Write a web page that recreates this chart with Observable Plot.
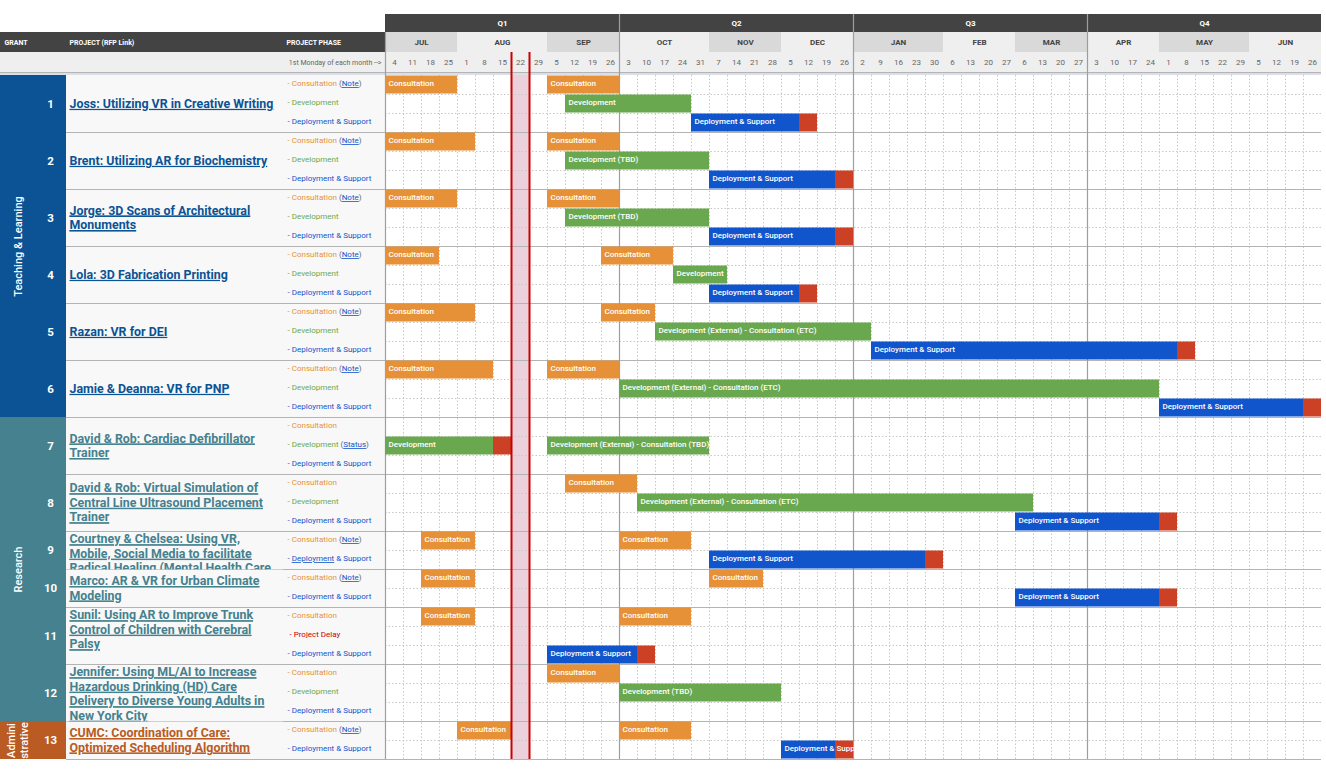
<!DOCTYPE html>
<html>
<head>
<meta charset="utf-8">
<script src="https://cdn.jsdelivr.net/npm/d3@7"></script>
<script src="https://cdn.jsdelivr.net/npm/@observablehq/plot@0.6"></script>
<style>
  body { margin: 0; background: #ffffff; font-family: Roboto, sans-serif; }
  #chart svg { display: block; }
</style>
</head>
<body>
<div id="chart"></div>
<script>
// ---------------- DATA ----------------
const quarters = ["Q1", "Q2", "Q3", "Q4"];
const months = ["JUL", "AUG", "SEP", "OCT", "NOV", "DEC", "JAN", "FEB", "MAR", "APR", "MAY", "JUN"];
// 1st Monday of each week, per month
const mondays = [
  [4, 11, 18, 25], [1, 8, 15, 22, 29], [5, 12, 19, 26],
  [3, 10, 17, 24, 31], [7, 14, 21, 28], [5, 12, 19, 26],
  [2, 9, 16, 23, 30], [6, 13, 20, 27], [6, 13, 20, 27],
  [3, 10, 17, 24], [1, 8, 15, 22, 29], [5, 12, 19, 26]
];
const todayWeek = 7; // week of Aug 22 (highlighted)

const groupNames = ["Teaching & Learning", "Research", "Admini\nstrative"];
const groupColors = ["#0b5394", "#45818e", "#b95b22"];

const projectNames = [
  "Joss: Utilizing VR in Creative Writing",
  "Brent: Utilizing AR for Biochemistry",
  "Jorge: 3D Scans of Architectural\nMonuments",
  "Lola: 3D Fabrication Printing",
  "Razan: VR for DEI",
  "Jamie & Deanna: VR for PNP",
  "David & Rob: Cardiac Defibrillator\nTrainer",
  "David & Rob: Virtual Simulation of\nCentral Line Ultrasound Placement\nTrainer",
  "Courtney & Chelsea: Using VR,\nMobile, Social Media to facilitate\nRadical Healing (Mental Health Care",
  "Marco: AR & VR for Urban Climate\nModeling",
  "Sunil: Using AR to Improve Trunk\nControl of Children with Cerebral\nPalsy",
  "Jennifer: Using ML/AI to Increase\nHazardous Drinking (HD) Care\nDelivery to Diverse Young Adults in\nNew York City",
  "CUMC: Coordination of Care:\nOptimized Scheduling Algorithm"
];
const projectGroup = [0, 0, 0, 0, 0, 0, 1, 1, 1, 1, 1, 1, 2];
const overflowingNames = [9, 11, 12];   // names taller than their row (top aligned)
const coveredNames = [10, 13];          // rows that hide the overflow of the row above

// phase rows of each project: [phase, link text, link on first word]
const projectPhases = [
  [["Consultation", "Note"], ["Development"], ["Deployment & Support"]],
  [["Consultation", "Note"], ["Development"], ["Deployment & Support"]],
  [["Consultation", "Note"], ["Development"], ["Deployment & Support"]],
  [["Consultation", "Note"], ["Development"], ["Deployment & Support"]],
  [["Consultation", "Note"], ["Development"], ["Deployment & Support"]],
  [["Consultation", "Note"], ["Development"], ["Deployment & Support"]],
  [["Consultation"], ["Development", "Status"], ["Deployment & Support"]],
  [["Consultation"], ["Development"], ["Deployment & Support"]],
  [["Consultation", "Note"], ["Deployment & Support", null, true]],
  [["Consultation", "Note"], ["Deployment & Support"]],
  [["Consultation"], ["Project Delay"], ["Deployment & Support"]],
  [["Consultation"], ["Development"], ["Deployment & Support"]],
  [["Consultation", "Note"], ["Deployment & Support"]]
];

// bars: project, phase row within the project, type, label, start week, end week (week index 0 = Jul 4)
// types: C consultation, D development, S deployment & support, X delay
const bars = [
  [1, 0, "C", "Consultation", 0, 4], [1, 0, "C", "Consultation", 9, 13],
  [1, 1, "D", "Development", 10, 17],
  [1, 2, "S", "Deployment & Support", 17, 23], [1, 2, "X", "", 23, 24],

  [2, 0, "C", "Consultation", 0, 5], [2, 0, "C", "Consultation", 9, 13],
  [2, 1, "D", "Development (TBD)", 10, 18],
  [2, 2, "S", "Deployment & Support", 18, 25], [2, 2, "X", "", 25, 26],

  [3, 0, "C", "Consultation", 0, 4], [3, 0, "C", "Consultation", 9, 13],
  [3, 1, "D", "Development (TBD)", 10, 18],
  [3, 2, "S", "Deployment & Support", 18, 25], [3, 2, "X", "", 25, 26],

  [4, 0, "C", "Consultation", 0, 3], [4, 0, "C", "Consultation", 12, 16],
  [4, 1, "D", "Development", 16, 19],
  [4, 2, "S", "Deployment & Support", 18, 23], [4, 2, "X", "", 23, 24],

  [5, 0, "C", "Consultation", 0, 5], [5, 0, "C", "Consultation", 12, 15],
  [5, 1, "D", "Development (External) - Consultation (ETC)", 15, 27],
  [5, 2, "S", "Deployment & Support", 27, 44], [5, 2, "X", "", 44, 45],

  [6, 0, "C", "Consultation", 0, 6], [6, 0, "C", "Consultation", 9, 13],
  [6, 1, "D", "Development (External) - Consultation (ETC)", 13, 43],
  [6, 2, "S", "Deployment & Support", 43, 51], [6, 2, "X", "", 51, 52],

  [7, 1, "D", "Development", 0, 6], [7, 1, "X", "", 6, 7],
  [7, 1, "D", "Development (External) - Consultation (TBD)", 9, 18],

  [8, 0, "C", "Consultation", 10, 14],
  [8, 1, "D", "Development (External) - Consultation (ETC)", 14, 36],
  [8, 2, "S", "Deployment & Support", 35, 43], [8, 2, "X", "", 43, 44],

  [9, 0, "C", "Consultation", 2, 5], [9, 0, "C", "Consultation", 13, 17],
  [9, 1, "S", "Deployment & Support", 18, 30], [9, 1, "X", "", 30, 31],

  [10, 0, "C", "Consultation", 2, 5], [10, 0, "C", "Consultation", 18, 21],
  [10, 1, "S", "Deployment & Support", 35, 43], [10, 1, "X", "", 43, 44],

  [11, 0, "C", "Consultation", 2, 5], [11, 0, "C", "Consultation", 13, 17],
  [11, 2, "S", "Deployment & Support", 9, 14], [11, 2, "X", "", 14, 15],

  [12, 0, "C", "Consultation", 9, 13],
  [12, 1, "D", "Development (TBD)", 13, 22],

  [13, 0, "C", "Consultation", 4, 7], [13, 0, "C", "Consultation", 13, 17],
  [13, 1, "S", "Deployment & Support", 22, 25], [13, 1, "X", "", 25, 26]
];

// ---------------- STYLE ----------------
const barColors = {C: "#e69138", D: "#6aa84f", S: "#1155cc", X: "#cc4125"};
const phaseColors = {"Consultation": "#e69138", "Development": "#6aa84f", "Deployment & Support": "#1155cc", "Project Delay": "#cc0000"};
const linkColor = "#1155cc";

// layout columns / header levels (in scale units)
const X = {grant: -3, project: -2, phase: -1, start: 0};
const Y = {quarter: -4, month: -3, week: -2, sep: -1, body: 0};

// ---------------- DERIVED TABLES ----------------
const weeks = [];
months.forEach((m, mi) => mondays[mi].forEach(d => weeks.push({mi, label: String(d)})));
weeks.forEach((w, i) => { w.x1 = i; w.x2 = i + 1; });
const nWeeks = weeks.length;

const monthSpans = [];
{ let c = 0; months.forEach((m, mi) => { monthSpans.push({name: m, x1: c, x2: c + mondays[mi].length, shade: mi % 2}); c += mondays[mi].length; }); }
const quarterSpans = quarters.map((q, qi) => ({name: q, x1: monthSpans[qi * 3].x1, x2: monthSpans[qi * 3 + 2].x2}));

const projects = [];
{ let r = 0; projectNames.forEach((name, i) => { const n = projectPhases[i].length; projects.push({id: i + 1, name, group: projectGroup[i], y1: r, y2: r + n}); r += n; }); }
const nRows = projects[projects.length - 1].y2;

const phaseRows = projects.flatMap((p, i) => projectPhases[i].map(([phase, link, firstWordLink], k) => ({
  phase, link, firstWordLink, y: p.y1 + k + 0.5,
  text: (phase === "Project Delay" ? "\u00a0" : "") + "- " + phase + (link ? " (" + link + ")" : "")
})));

const groups = groupNames.map((name, gi) => {
  const ps = projects.filter(p => p.group === gi);
  return {name, color: groupColors[gi], y1: ps[0].y1, y2: ps[ps.length - 1].y2};
});

const barRows = bars.map(([p, row, type, label, start, end]) => ({
  type, label, x1: start, x2: end, y1: projects[p - 1].y1 + row, y2: projects[p - 1].y1 + row + 1
}));

const quarterBounds = quarterSpans.slice(1).map(q => q.x1);
const weekBounds = d3.range(1, nWeeks).filter(v => !quarterBounds.includes(v));
const projectBounds = projects.map(p => p.y2);
const subBounds = d3.range(1, nRows).filter(v => !projectBounds.includes(v));

const nameMarks = (list, anchor) => Plot.text(list, {
  x: X.project, y: anchor === "top" ? "y1" : d => (d.y1 + d.y2) / 2,
  text: "name", dx: 3, dy: anchor === "top" ? 1.5 : -0.8,
  textAnchor: "start", lineAnchor: anchor, lineHeight: 1.17,
  fontSize: 12.4, fontWeight: "bold", fill: d => groupColors[d.group]
});
const mainNames = projects.filter(p => !coveredNames.includes(p.id));
const lateNames = projects.filter(p => coveredNames.includes(p.id));

// ---------------- PLOT ----------------
const plot = Plot.plot({
  width: 1326,
  height: 770,
  margin: 0,
  x: {type: "linear", domain: [X.grant, X.project, X.phase, X.start, nWeeks], range: [0, 66, 283, 385, 1321], axis: null},
  y: {type: "linear", domain: [Y.quarter, Y.month, Y.week, Y.sep, Y.body, nRows], range: [14, 32, 52, 72, 75, 759], axis: null},
  style: {fontFamily: "Roboto, sans-serif", background: "#ffffff", overflow: "visible"},
  marks: [
    // header backgrounds
    Plot.rect(quarterSpans, {x1: "x1", x2: "x2", y1: Y.quarter, y2: Y.month, fill: "#434343"}),
    Plot.rect([0], {x1: X.grant, x2: X.start, y1: Y.month, y2: Y.week, fill: "#434343"}),
    Plot.rect(monthSpans, {x1: "x1", x2: "x2", y1: Y.month, y2: Y.week, fill: d => d.shade ? "#efefef" : "#d9d9d9"}),
    Plot.rect([0], {x1: X.grant, x2: nWeeks, y1: Y.week, y2: Y.sep, fill: "#efefef"}),
    Plot.rect([0], {x1: X.grant, x2: nWeeks, y1: Y.sep, y2: Y.body, fill: "#dadfe9"}),
    // left table backgrounds
    Plot.rect(groups, {x1: X.grant, x2: X.project, y1: "y1", y2: "y2", fill: "color"}),
    Plot.rect(projects, {x1: X.project, x2: X.start, y1: "y1", y2: "y2", fill: "#f8f8f8"}),
    // today column
    Plot.rect([todayWeek], {x1: d => d, x2: d => d + 1, y1: Y.body, y2: nRows, fill: "#ead1dc"}),
    // grid
    Plot.ruleX(weekBounds, {y1: Y.body, y2: nRows, stroke: "#c8c8c8", strokeDasharray: "1.5,2"}),
    Plot.ruleY(subBounds, {x1: X.start, x2: nWeeks, stroke: "#c8c8c8", strokeDasharray: "1.5,2"}),
    Plot.ruleY(projectBounds, {x1: X.project, x2: nWeeks, stroke: "#b4b4b4", strokeWidth: 1.2}),
    Plot.ruleY([Y.sep], {x1: X.grant, x2: nWeeks, stroke: "#b4b4b4"}),
    Plot.ruleX(quarterBounds, {y1: Y.quarter, y2: nRows, stroke: "#9e9e9e", strokeWidth: 1.2}),
    Plot.ruleX([X.start], {y1: Y.month, y2: nRows, stroke: "#9e9e9e", strokeWidth: 1.2}),
    // bars
    Plot.rect(barRows, {x1: "x1", x2: "x2", y1: "y1", y2: "y2", fill: d => barColors[d.type], insetTop: 0.5, insetBottom: 0.5}),
    Plot.text(barRows.filter(d => d.label), {x: "x1", y: d => d.y1 + 0.5, text: "label", dx: 3, dy: -1.5, textAnchor: "start", fill: "white", fontSize: 8, fontWeight: 500}),
    // today markers
    Plot.ruleX([todayWeek, todayWeek + 1], {y1: Y.week, y2: nRows, stroke: "#cc0000", strokeWidth: 2}),
    // header texts
    Plot.text(quarterSpans, {x: d => (d.x1 + d.x2) / 2, y: Y.quarter + 0.5, text: "name", fill: "white", fontSize: 8, fontWeight: "bold"}),
    Plot.text(monthSpans, {x: d => (d.x1 + d.x2) / 2, y: Y.month + 0.5, text: "name", fill: "#434343", fontSize: 8, fontWeight: "bold"}),
    Plot.text(weeks, {x: d => d.x1 + 0.5, y: Y.week + 0.5, text: "label", fill: "#666666", fontSize: 8}),
    Plot.text(["GRANT"], {x: X.grant, y: Y.month + 0.5, text: d => d, dx: 4, textAnchor: "start", fill: "white", fontSize: 7, fontWeight: "bold"}),
    Plot.text(["PROJECT (RFP Link)"], {x: X.project, y: Y.month + 0.5, text: d => d, dx: 3, textAnchor: "start", fill: "white", fontSize: 7, fontWeight: "bold"}),
    Plot.text(["PROJECT PHASE"], {x: X.phase, y: Y.month + 0.5, text: d => d, dx: 3, textAnchor: "start", fill: "white", fontSize: 7, fontWeight: "bold"}),
    Plot.text(["1st Monday of each month -->"], {x: X.start, y: Y.week + 0.5, text: d => d, dx: -4, textAnchor: "end", fill: "#666666", fontSize: 7}),
    // left table texts
    Plot.text(groups, {x: X.grant, y: d => (d.y1 + d.y2) / 2, text: "name", dx: 17, rotate: -90, lineAnchor: "middle", lineHeight: 1.15, fill: "white", fontSize: 11, fontWeight: 500}),
    Plot.text(projects, {x: X.project, y: d => (d.y1 + d.y2) / 2, text: d => String(d.id), dx: -16, fill: "white", fontSize: 11.5, fontWeight: "bold"}),
    nameMarks(mainNames.filter(p => !overflowingNames.includes(p.id)), "middle"),
    nameMarks(mainNames.filter(p => overflowingNames.includes(p.id)), "top"),
    Plot.rect(lateNames, {x1: X.project, x2: X.phase, y1: "y1", y2: "y2", fill: "#f8f8f8", insetTop: 0.6}),
    nameMarks(lateNames, "middle"),
    Plot.text(phaseRows, {x: X.phase, y: "y", text: "text", dx: 4, dy: -1.5, textAnchor: "start", fill: d => phaseColors[d.phase], fontSize: 8})
  ]
});

// rich text: underline links in project names and phase labels
const nameSet = new Set(projectNames.map(n => n.replace(/\n/g, "")));
const phaseTexts = new Set(phaseRows.map(d => d.text));
let phaseIndex = 0;
d3.select(plot).selectAll("text").each(function () {
  const content = this.textContent;
  if (nameSet.has(content)) {
    d3.select(this).style("text-decoration", "underline");
    d3.select(this).selectAll("tspan").style("text-decoration", "underline");
  } else if (phaseTexts.has(content) && phaseIndex < phaseRows.length) {
    const d = phaseRows[phaseIndex++];
    const el = d3.select(this);
    el.text(null);
    const color = phaseColors[d.phase];
    const lead = (d.phase === "Project Delay" ? "\u00a0" : "") + "- ";
    if (d.firstWordLink) {
      const [first, ...rest] = d.phase.split(" ");
      el.append("tspan").text(lead).attr("fill", color);
      el.append("tspan").text(first).attr("fill", linkColor).style("text-decoration", "underline");
      el.append("tspan").text(" " + rest.join(" ")).attr("fill", color);
    } else {
      el.append("tspan").text(lead + d.phase).attr("fill", color);
      if (d.link) {
        el.append("tspan").text(" (").attr("fill", "#666666");
        el.append("tspan").text(d.link).attr("fill", linkColor).style("text-decoration", "underline");
        el.append("tspan").text(")").attr("fill", "#666666");
      }
    }
  }
});

document.getElementById("chart").append(plot);
</script>
</body>
</html>
